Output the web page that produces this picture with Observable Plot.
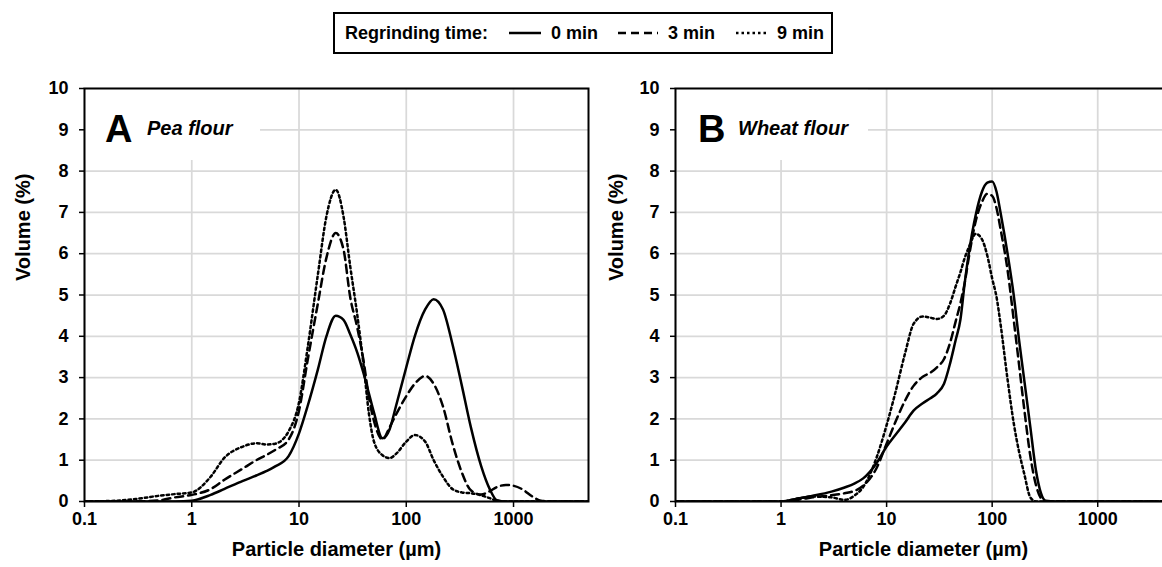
<!DOCTYPE html>
<html>
<head>
<meta charset="utf-8">
<script src="https://cdn.jsdelivr.net/npm/d3@7"></script>
<script src="https://cdn.jsdelivr.net/npm/@observablehq/plot@0.6"></script>
<style>
  html, body { margin: 0; padding: 0; background: #fff; overflow: hidden; }
  #page { position: relative; width: 1162px; height: 567px; overflow: hidden; font-family: "Liberation Sans", Arial, sans-serif; }
  #legend { position: absolute; left: 333px; top: 12px; width: 500px; height: 42px; border: 2px solid #000; box-sizing: border-box; font-weight: bold; font-size: 18px; color: #000; }
  #legend > * { position: absolute; top: 50%; transform: translateY(-50%); white-space: nowrap; }
  .panel { position: absolute; top: 0; height: 567px; }
  .panel svg { max-width: none !important; display: block; }
</style>
</head>
<body>
<div id="page">
  <div id="legend"></div>
  <div id="panelA" class="panel" style="left:0px;width:592px"></div>
  <div id="panelB" class="panel" style="left:592px;width:583px"></div>
</div>
<script>
// ---------------- data ----------------
const seriesNames = ["0 min", "3 min", "9 min"];
const legendTitle = "Regrinding time:";
const xTicks = [0.1, 1, 10, 100, 1000];
const xTickLabels = ["0.1", "1", "10", "100", "1000"];
const yTicks = [0, 1, 2, 3, 4, 5, 6, 7, 8, 9, 10];
const xTitle = "Particle diameter (µm)";
const yTitle = "Volume (%)";

// Panel A: pea flour
const peaDiameter = [0.1,0.2,0.3,0.5,0.7,1,1.5,2,3,4,5,6,8,10,12,15,18,22,26,30,35,40,45,50,60,70,80,100,120,150,180,220,270,330,400,500,600,700,850,1000,1200,1500,1800,2500,5000];
const pea0 = [0,0,0,0,0,0.02,0.16,0.3,0.5,0.63,0.74,0.85,1.1,1.65,2.3,3.2,4.0,4.5,4.4,4.05,3.6,3.1,2.6,2.15,1.53,1.75,2.3,3.25,4.0,4.65,4.9,4.65,3.8,2.8,1.8,0.85,0.3,0.03,0,0,0,0,0,0,0];
const pea3 = [0,0,0,0.03,0.1,0.16,0.3,0.52,0.8,1.0,1.13,1.25,1.5,2.2,3.4,4.8,5.9,6.5,6.1,4.95,4.2,3.4,2.5,1.95,1.5,1.8,2.1,2.55,2.85,3.04,2.85,2.3,1.4,0.7,0.27,0.17,0.25,0.35,0.4,0.38,0.3,0.12,0.02,0,0];
const pea9 = [0,0.02,0.06,0.14,0.18,0.22,0.6,1.05,1.33,1.41,1.38,1.4,1.7,2.4,3.7,5.5,6.9,7.55,6.9,5.7,4.5,3.3,2.1,1.45,1.12,1.05,1.15,1.45,1.61,1.45,1.0,0.6,0.3,0.22,0.2,0.15,0.08,0.02,0,0,0,0,0,0,0];

// Panel B: wheat flour
const wheatDiameter = [0.1,0.5,1,1.5,2,3,4,5,6,8,10,12,15,18,22,26,30,35,40,45,50,55,60,70,80,90,100,110,120,140,160,180,200,230,260,290,320,400,1000,5000];
const wheat0 = [0,0,0,0.08,0.14,0.24,0.34,0.44,0.56,0.92,1.33,1.6,1.92,2.2,2.38,2.5,2.62,2.85,3.35,3.9,4.4,5.3,6.0,6.95,7.5,7.72,7.75,7.5,7.0,6.0,5.0,3.9,3.0,1.8,0.75,0.2,0.02,0,0,0];
const wheat3 = [0,0,0,0.05,0.1,0.15,0.2,0.26,0.38,0.8,1.4,1.9,2.45,2.8,3.02,3.12,3.25,3.45,3.85,4.35,4.8,5.3,5.9,6.8,7.25,7.45,7.4,7.1,6.6,5.6,4.4,3.3,2.3,1.1,0.4,0.08,0,0,0,0];
const wheat9 = [0,0,0,0.08,0.12,0.1,0.04,0.15,0.35,1.05,1.85,2.6,3.6,4.3,4.48,4.45,4.42,4.5,4.8,5.2,5.55,5.9,6.15,6.48,6.35,5.95,5.4,4.95,4.3,2.95,1.9,1.2,0.7,0.1,0,0,0,0,0,0];

const panels = [
  {id: "panelA", letter: "A", name: "Pea flour", diameter: peaDiameter, values: [pea0, pea3, pea9]},
  {id: "panelB", letter: "B", name: "Wheat flour", diameter: wheatDiameter, values: [wheat0, wheat3, wheat9]}
];

// ---------------- styles ----------------
const FONT = "Liberation Sans, Arial, Helvetica, sans-serif";
const dashes = [null, "8,5", "2.5,3"];
const layout = {
  panelA: {width: 592, marginLeft: 84, marginRight: 4, boxW: 175, titleDx: -61, letterDx: 21, nameDx: 63},
  panelB: {width: 583, marginLeft: 83, marginRight: 4, boxW: 192, titleDx: -59, letterDx: 23, nameDx: 63}
};

function labelMark(letter, name, L) {
  return (index, scales, values, dims) => {
    const g = d3.create("svg:g");
    const x0 = dims.marginLeft, y0 = dims.marginTop;
    g.append("rect").attr("x", x0 + 1).attr("y", y0 + 1).attr("width", L.boxW).attr("height", 71).attr("fill", "#fff");
    g.append("text").attr("x", x0 + L.letterDx).attr("y", y0 + 54).attr("text-anchor", "start")
      .attr("font-family", FONT).attr("font-size", 38).attr("font-weight", "bold").attr("fill", "#000").text(letter);
    g.append("text").attr("x", x0 + L.nameDx).attr("y", y0 + 47).attr("text-anchor", "start")
      .attr("font-family", FONT).attr("font-size", 20).attr("font-weight", "bold").attr("font-style", "italic").attr("fill", "#000").text(name);
    return g.node();
  };
}

for (const p of panels) {
  const L = layout[p.id];
  const rows = [];
  p.values.forEach((vals, si) => vals.forEach((v, j) => rows.push({d: p.diameter[j], v, s: seriesNames[si]})));
  const lineMarks = seriesNames.map((name, si) =>
    Plot.line(rows.filter(r => r.s === name), {
      x: "d", y: "v", stroke: "#000", strokeWidth: 2.5, curve: "monotone-x",
      strokeDasharray: dashes[si] || undefined, clip: true
    })
  );
  const chart = Plot.plot({
    width: L.width, height: 567,
    marginLeft: L.marginLeft, marginRight: L.marginRight, marginTop: 88, marginBottom: 66,
    style: {fontFamily: FONT, fontSize: "18px", fontWeight: "bold", color: "#000", background: "transparent", overflow: "visible", maxWidth: "none"},
    x: {type: "log", domain: [0.1, 5000]},
    y: {domain: [0, 10]},
    marks: [
      Plot.ruleX(xTicks, {stroke: "#d9d9d9", strokeWidth: 1.75}),
      Plot.ruleY(yTicks, {stroke: "#d9d9d9", strokeWidth: 1.75}),
      labelMark(p.letter, p.name, L),
      ...lineMarks,
      Plot.frame({stroke: "#000", strokeWidth: 2}),
      Plot.axisX({ticks: xTicks, tickFormat: (d) => xTickLabels[xTicks.indexOf(d)], tickSize: 6, tickPadding: 5, label: null, strokeWidth: 1.5, fontSize: 18}),
      Plot.axisY({ticks: yTicks, tickSize: 5, tickPadding: 11, label: null, strokeWidth: 1.5, fontSize: 18}),
      Plot.text([yTitle], {frameAnchor: "left", dx: L.titleDx, dy: -14, rotate: -90, fontSize: 20, fontWeight: "bold", fill: "#000"}),
      Plot.text([xTitle], {frameAnchor: "bottom", dy: 54, fontSize: 20, fontWeight: "bold", fill: "#000"})
    ]
  });
  document.getElementById(p.id).appendChild(chart);
}

// ---------------- legend ----------------
const legend = document.getElementById("legend");
const legendItems = [
  {el: "text", txt: legendTitle, left: 10},
  {el: "line", si: 0, left: 174, w: 32},
  {el: "text", txt: seriesNames[0], left: 216},
  {el: "line", si: 1, left: 283, w: 40},
  {el: "text", txt: seriesNames[1], left: 333},
  {el: "line", si: 2, left: 401, w: 32},
  {el: "text", txt: seriesNames[2], left: 442}
];
for (const it of legendItems) {
  if (it.el === "text") {
    const s = document.createElement("span");
    s.textContent = it.txt;
    s.style.left = it.left + "px";
    legend.appendChild(s);
  } else {
    const svg = d3.create("svg").attr("width", it.w).attr("height", 6).style("left", it.left + "px").style("display", "block");
    const ln = svg.append("line").attr("x1", 0).attr("x2", it.w).attr("y1", 3).attr("y2", 3).attr("stroke", "#000").attr("stroke-width", 2.5);
    if (dashes[it.si]) ln.attr("stroke-dasharray", dashes[it.si]);
    legend.appendChild(svg.node());
  }
}
</script>
</body>
</html>
